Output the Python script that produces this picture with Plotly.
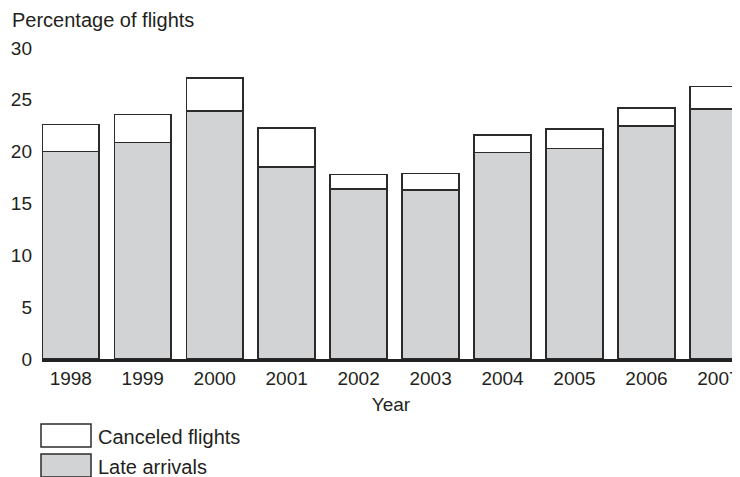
import plotly.graph_objects as go

years = ["1998", "1999", "2000", "2001", "2002", "2003", "2004", "2005", "2006", "2007"]
late_arrivals = [20.0, 20.9, 23.9, 18.5, 16.4, 16.3, 19.9, 20.3, 22.5, 24.1]
canceled_flights = [2.6, 2.7, 3.2, 3.8, 1.4, 1.6, 1.7, 1.9, 1.7, 2.2]
y_ticks = [0, 5, 10, 15, 20, 25, 30]

FONT = "Liberation Sans, Arial, Helvetica, sans-serif"
TXT = "#231f20"
GRAY = "#d2d3d5"
EDGE = "#2b2b2b"

fig = go.Figure()
fig.add_trace(go.Bar(x=years, y=late_arrivals, name="Late arrivals",
                     marker=dict(color=GRAY, line=dict(color=EDGE, width=1.5))))
fig.add_trace(go.Bar(x=years, y=canceled_flights, name="Canceled flights",
                     marker=dict(color="white", line=dict(color=EDGE, width=1.5))))

# page body has an 8px margin, so the figure is sized 732x469 and offset accordingly
fig.update_layout(
    barmode="stack",
    bargap=0.21,
    width=732, height=469,
    margin=dict(l=34, r=0, t=40, b=118, autoexpand=False),
    plot_bgcolor="white", paper_bgcolor="white",
    showlegend=False,
    font=dict(family=FONT, size=19, color=TXT),
    xaxis=dict(type="category", range=[-0.4, 9.3], showline=True, linecolor="#222",
               linewidth=2.5, ticks="", showgrid=False, zeroline=False, automargin=False,
               title=dict(text="Year", font=dict(size=19), standoff=11),
               tickfont=dict(size=19)),
    yaxis=dict(range=[0, 30], tickvals=y_ticks, showgrid=False, zeroline=False,
               showline=False, ticks="", ticklabelstandoff=9, automargin=False,
               tickfont=dict(size=19)),
)

def px_to_paper_x(px):
    return (px - 42) / 698

def px_to_paper_y(py):
    return (359 - py) / 311

fig.add_annotation(xref="paper", yref="paper", x=px_to_paper_x(10), y=px_to_paper_y(20),
                   xanchor="left", yanchor="middle",
                   text="Percentage of flights", showarrow=False,
                   font=dict(size=20, color=TXT))

# legend drawn manually (boxes + labels) in paper coordinates
legend_items = [("Canceled flights", "white", 424, 447), ("Late arrivals", GRAY, 454, 477)]
for label, fill, top, bot in legend_items:
    fig.add_shape(type="rect", xref="paper", yref="paper",
                  x0=px_to_paper_x(41), x1=px_to_paper_x(91),
                  y0=px_to_paper_y(bot), y1=px_to_paper_y(top),
                  fillcolor=fill, line=dict(color=EDGE, width=1.5))
    fig.add_annotation(xref="paper", yref="paper", x=px_to_paper_x(96),
                       y=px_to_paper_y((top + bot) / 2 + 1), xanchor="left", yanchor="middle",
                       text=label, showarrow=False, font=dict(size=20, color=TXT))

fig.write_html("out.html")
